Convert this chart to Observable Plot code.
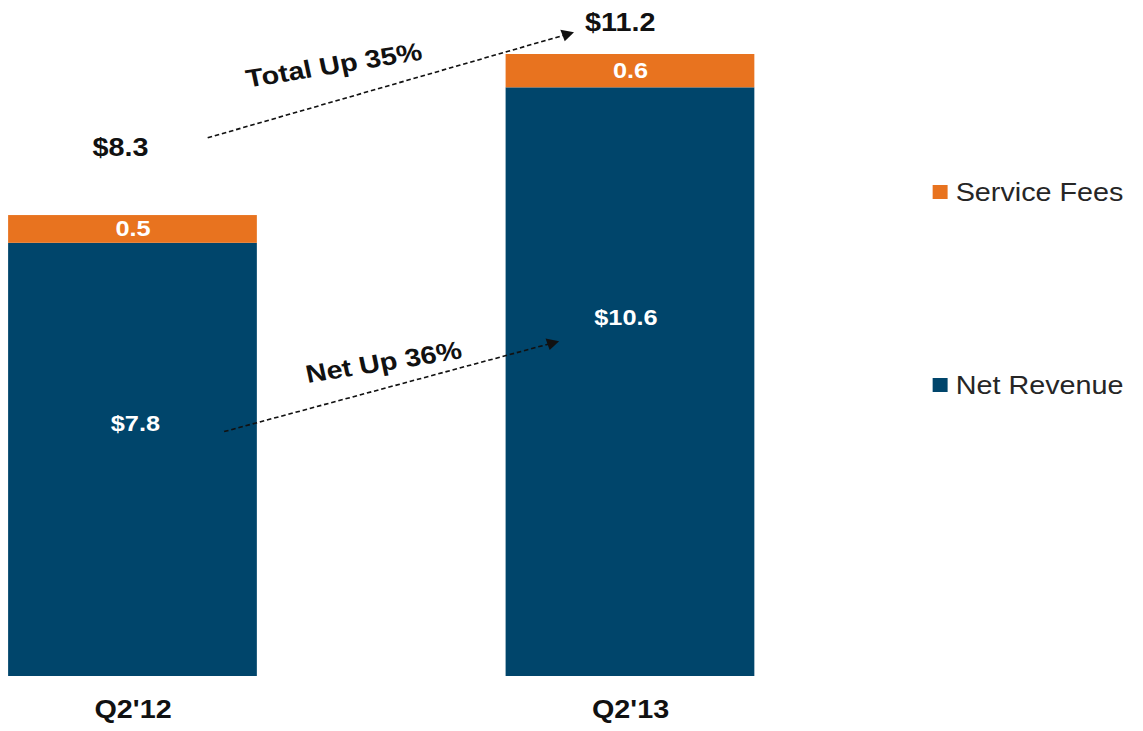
<!DOCTYPE html>
<html>
<head>
<meta charset="utf-8">
<script src="https://cdn.jsdelivr.net/npm/d3@7"></script>
<script src="https://cdn.jsdelivr.net/npm/@observablehq/plot@0.6"></script>
<style>
  html, body { margin: 0; padding: 0; background: #fff; overflow: hidden; }
  #wrap { position: relative; width: 994px; height: 731px; transform: scale(1.15, 1); transform-origin: 0 0; font-family: "Liberation Sans", Arial, sans-serif; }
  .leg { position: absolute; left: 811px; display: flex; align-items: center; font-size: 25px; color: #262626; }
  .leg .sw { width: 13px; height: 14px; margin-right: 7px; }
</style>
</head>
<body>
<div id="wrap"></div>
<script>
// ---- data ----
const quarters = ["Q2'12", "Q2'13"];
const netRevenue = [7.8, 10.6];
const serviceFees = [0.5, 0.6];
const totalLabels = ["$8.3", "$11.2"];
const netLabels = ["$7.8", "$10.6"];
const feeLabels = ["0.5", "0.6"];
const seriesNames = ["Service Fees", "Net Revenue"];
const seriesColors = ["#E8731F", "#00456B"];
const growthLabels = ["Total Up 35%", "Net Up 36%"];

// ---- layout (annotation anchors in data units, offsets in px) ----
const totalOffsets = [{dx: -11, dy: -68}, {dx: -9, dy: -32}];
const netOffsets = [{dx: 2, dy: -36}, {dx: -4, dy: -64}];
const arrowAnchors = [
  {x1: 0.150, y1: 9.70, x2: 0.871, y2: 11.56, rotate: 71.8},
  {x1: 0.183, y1: 4.41, x2: 0.841, y2: 6.00, rotate: 72.9}
];
const growthAnchors = [{x: 0.404, y: 11.0}, {x: 0.504, y: 5.65}];

const segments = quarters.flatMap((q, i) => [
  {i, series: "Net Revenue", y1: 0, y2: netRevenue[i]},
  {i, series: "Service Fees", y1: netRevenue[i], y2: netRevenue[i] + serviceFees[i]}
]);

const bold = {fontWeight: "bold", fontFamily: "Liberation Sans, Arial, sans-serif"};

const marks = [
  Plot.rect(segments, {x1: d => d.i - 0.25, x2: d => d.i + 0.25, y1: "y1", y2: "y2", fill: "series"}),
  Plot.axisX({ticks: [0, 1], tickFormat: i => quarters[i], tickSize: 0, tickPadding: 24, fontSize: 25, fontWeight: "bold", fill: "#111", lineAnchor: "top"}),
  // fee labels
  Plot.text(quarters, {x: (d, i) => i, y: (d, i) => netRevenue[i] + serviceFees[i] / 2, text: (d, i) => feeLabels[i], fill: "#fff", fontSize: 22, ...bold})
];
quarters.forEach((q, i) => {
  marks.push(Plot.text([q], {x: () => i, y: () => netRevenue[i] / 2, text: () => netLabels[i], fill: "#fff", fontSize: 22, dx: netOffsets[i].dx, dy: netOffsets[i].dy, ...bold}));
  marks.push(Plot.text([q], {x: () => i, y: () => netRevenue[i] + serviceFees[i], text: () => totalLabels[i], fill: "#111", fontSize: 25, dx: totalOffsets[i].dx, dy: totalOffsets[i].dy, ...bold}));
});
marks.push(
  Plot.link(arrowAnchors, {x1: "x1", y1: "y1", x2: "x2", y2: "y2", stroke: "#111", strokeWidth: 1.6, strokeDasharray: "4,2.5"}),
  Plot.dot(arrowAnchors, {x: "x2", y: "y2", symbol: "triangle", r: 4.5, fill: "#111", stroke: "none", rotate: "rotate"}),
  Plot.text(growthLabels, {x: (d, i) => growthAnchors[i].x, y: (d, i) => growthAnchors[i].y, text: d => d, rotate: -10.5, fill: "#111", fontSize: 25, ...bold})
);

const chart = Plot.plot({
  width: 994,
  height: 731,
  marginTop: 54,
  marginBottom: 55,
  marginLeft: 0,
  marginRight: 0,
  style: {fontFamily: "Liberation Sans, Arial, sans-serif", background: "#fff", overflow: "visible"},
  x: {domain: [0, 1], range: [115.2, 547.8], axis: null},
  y: {domain: [0, 11.2], axis: null},
  color: {domain: seriesNames, range: seriesColors},
  marks
});

const wrap = document.getElementById("wrap");
wrap.appendChild(chart);

// legend
const legendTops = [192, 385];
seriesNames.forEach((name, k) => {
  const item = document.createElement("div");
  item.className = "leg";
  item.style.top = (legendTops[k] - 15) + "px";
  item.style.height = "30px";
  const sw = document.createElement("div");
  sw.className = "sw";
  sw.style.background = seriesColors[k];
  const label = document.createElement("span");
  label.textContent = name;
  item.appendChild(sw);
  item.appendChild(label);
  wrap.appendChild(item);
});
</script>
</body>
</html>
